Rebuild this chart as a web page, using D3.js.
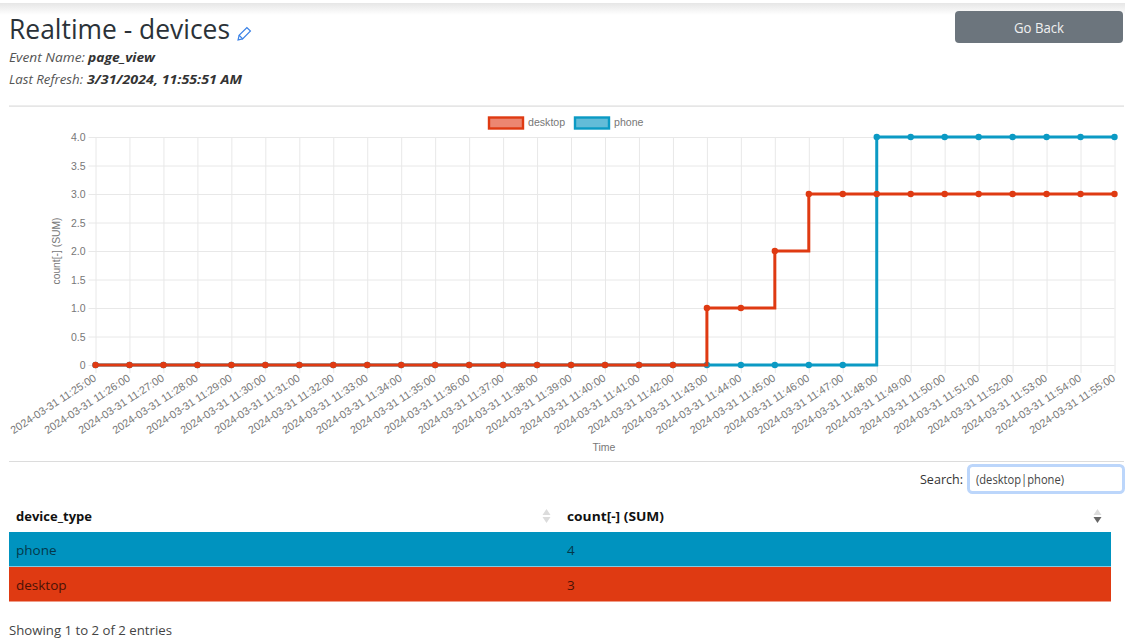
<!DOCTYPE html>
<html><head><meta charset="utf-8">
<script src="https://cdn.jsdelivr.net/npm/d3@7/dist/d3.min.js"></script>
<style>
html,body{margin:0;padding:0;background:#fff;overflow:hidden}
svg{display:block}
</style></head><body><svg id="c" width="1125" height="641"></svg>
<script>
const timeLabels = ["2024-03-31 11:25:00","2024-03-31 11:26:00","2024-03-31 11:27:00","2024-03-31 11:28:00","2024-03-31 11:29:00","2024-03-31 11:30:00","2024-03-31 11:31:00","2024-03-31 11:32:00","2024-03-31 11:33:00","2024-03-31 11:34:00","2024-03-31 11:35:00","2024-03-31 11:36:00","2024-03-31 11:37:00","2024-03-31 11:38:00","2024-03-31 11:39:00","2024-03-31 11:40:00","2024-03-31 11:41:00","2024-03-31 11:42:00","2024-03-31 11:43:00","2024-03-31 11:44:00","2024-03-31 11:45:00","2024-03-31 11:46:00","2024-03-31 11:47:00","2024-03-31 11:48:00","2024-03-31 11:49:00","2024-03-31 11:50:00","2024-03-31 11:51:00","2024-03-31 11:52:00","2024-03-31 11:53:00","2024-03-31 11:54:00","2024-03-31 11:55:00"];
const desktopValues = [0,0,0,0,0,0,0,0,0,0,0,0,0,0,0,0,0,0,1,1,2,3,3,3,3,3,3,3,3,3,3];
const phoneValues = [0,0,0,0,0,0,0,0,0,0,0,0,0,0,0,0,0,0,0,0,0,0,0,4,4,4,4,4,4,4,4];
const yTicks = [0,0.5,1,1.5,2,2.5,3,3.5,4];
const tableDevices = ["phone","desktop"];
const tableCounts = [4,3];

const RED="#df3a12", BLUE="#0b9ac4";
const UI="'Open Sans','Noto Sans',sans-serif", CH="'Liberation Sans',Arial,sans-serif";
const svg=d3.select("#c");
const defs=svg.append("defs");
const g0=defs.append("linearGradient").attr("id","top").attr("x1",0).attr("x2",0).attr("y1",0).attr("y2",1);
g0.append("stop").attr("offset",0).attr("stop-color","#e6e6e6");
g0.append("stop").attr("offset",1).attr("stop-color","#fff");
svg.append("rect").attr("x",0).attr("y",3).attr("width",1125).attr("height",12).attr("fill","url(#top)");

function text(x,y,s,o={}){const t=svg.append("text").attr("x",x).attr("y",y).text(s)
 .attr("font-family",o.f||UI).attr("font-size",o.s||13).attr("fill",o.c||"#333");
 if(o.w)t.attr("font-weight",o.w); if(o.i)t.attr("font-style","italic"); if(o.a)t.attr("text-anchor",o.a); return t;}

text(9,39,"Realtime - devices",{s:27,c:"#2b3238"}).attr("textLength",221).attr("lengthAdjust","spacingAndGlyphs");
// pencil icon
const pen=svg.append("g").attr("transform","translate(243,35) rotate(45)").attr("fill","none").attr("stroke","#3b82e6").attr("stroke-width",1.2);
pen.append("rect").attr("x",-2.5).attr("y",-8).attr("width",5).attr("height",11);
pen.append("path").attr("d","M-2.5,3 L0,7 L2.5,3");

text(9,62,"Event Name: ",{i:1,s:12.5,c:"#555"}).attr("textLength",76).attr("lengthAdjust","spacingAndGlyphs");
text(88,62,"page_view",{i:1,w:700,s:12.5,c:"#333"}).attr("textLength",67).attr("lengthAdjust","spacingAndGlyphs");
text(9,84,"Last Refresh: ",{i:1,s:12.5,c:"#555"}).attr("textLength",74).attr("lengthAdjust","spacingAndGlyphs");
text(87,84,"3/31/2024, 11:55:51 AM",{i:1,w:700,s:12.5,c:"#333"}).attr("textLength",155).attr("lengthAdjust","spacingAndGlyphs");

svg.append("rect").attr("x",955).attr("y",11).attr("width",168).attr("height",32).attr("rx",4).attr("fill","#6c757d");
text(1039,33,"Go Back",{s:14,c:"#f0f0f0",a:"middle"}).attr("textLength",50).attr("lengthAdjust","spacingAndGlyphs");

svg.append("rect").attr("x",9).attr("y",105.5).attr("width",1115).attr("height",1.2).attr("fill","#dcdcdc");
svg.append("rect").attr("x",9).attr("y",461).attr("width",1115).attr("height",1).attr("fill","#dcdcdc");

// chart
const x=d3.scalePoint().domain(timeLabels).range([95.5,1114.5]);
const y=d3.scaleLinear().domain([0,4]).range([365,137]);
const chart=svg.append("g").attr("font-family",CH);
const gridC="#e8e8e8";
const TXT="#777";
const xAxis=d3.axisBottom(x).tickSize(0).tickPadding(0);
const xg=chart.append("g").attr("transform","translate(0,365)").call(xAxis);
xg.select(".domain").remove();
xg.selectAll(".tick").each(function(d){
  const t=d3.select(this);
  t.append("line").attr("y1",-228).attr("y2",8).attr("stroke",gridC);
  t.select("text").attr("font-family",CH).attr("font-size",10.8).attr("fill",TXT)
   .attr("text-anchor","end").attr("dy",0).attr("y",0)
   .attr("transform","translate(1,15) rotate(-33)");
});
const yAxis=d3.axisLeft(y).tickValues(yTicks).tickSize(0).tickPadding(0).tickFormat(d=>d===0?"0":d3.format(".1f")(d));
const yg=chart.append("g").attr("transform","translate(95.5,0)").call(yAxis);
yg.select(".domain").remove();
yg.selectAll(".tick").each(function(){
  const t=d3.select(this);
  t.append("line").attr("x1",-7).attr("x2",1019).attr("stroke",gridC);
  t.select("text").attr("font-family",CH).attr("font-size",10.5).attr("fill",TXT).attr("x",-10).attr("dy","0.34em");
});
text(60,251,"count[-] (SUM)",{f:CH,s:10.3,c:TXT,a:"middle"}).attr("transform","rotate(-90 60 251)");
text(604,451,"Time",{f:CH,s:10.5,c:TXT,a:"middle"});

const line=d3.line().x((d,i)=>x(timeLabels[i])).y(d=>y(d)).curve(d3.curveStepAfter);
function series(vals,col){
  chart.append("path").datum(vals).attr("d",line).attr("fill","none").attr("stroke",col).attr("stroke-width",3);
  chart.append("g").selectAll("circle").data(vals).join("circle")
   .attr("cx",(d,i)=>x(timeLabels[i])).attr("cy",d=>y(d)).attr("r",3.2).attr("fill",col);
}
series(phoneValues,BLUE);
series(desktopValues,RED);

// legend
[["desktop",488,528,RED,"#ec8671"],["phone",574,614,BLUE,"#63bcd8"]].forEach(l=>{
  svg.append("rect").attr("x",l[1]+1).attr("y",117.5).attr("width",34).attr("height",11).attr("fill",l[4]).attr("stroke",l[3]).attr("stroke-width",2.4);
  text(l[2],126,l[0],{f:CH,s:10.6,c:TXT});
});

// search
text(920,484,"Search:",{s:13,c:"#333"}).attr("textLength",43).attr("lengthAdjust","spacingAndGlyphs");
svg.append("rect").attr("x",968.5).attr("y",465.5).attr("width",155).attr("height",27).attr("rx",4).attr("fill","#fff").attr("stroke","#bcd6fb").attr("stroke-width",3);
text(976,484,"(desktop|phone)",{s:12,c:"#444"}).attr("textLength",88).attr("lengthAdjust","spacingAndGlyphs");

// table
text(16,521,"device_type",{s:13,w:700,c:"#111"}).attr("textLength",76).attr("lengthAdjust","spacingAndGlyphs");
text(567,521,"count[-] (SUM)",{s:13,w:700,c:"#111"}).attr("textLength",97).attr("lengthAdjust","spacingAndGlyphs");
function arrows(cx,upC,dnC){
  svg.append("path").attr("d",`M${cx-4},515 L${cx},509 L${cx+4},515Z`).attr("fill",upC);
  svg.append("path").attr("d",`M${cx-4},517 L${cx},523 L${cx+4},517Z`).attr("fill",dnC);
}
arrows(546.5,"#dcdcdc","#dcdcdc");
arrows(1097.5,"#dcdcdc","#666");
const rowCol=["#0093bf",RED];
const rowY=d3.scaleBand().domain(tableDevices).range([532,601.5]).paddingInner(0.015);
tableDevices.forEach((d,i)=>{
  svg.append("rect").attr("x",9).attr("y",rowY(d)).attr("width",1102).attr("height",rowY.bandwidth()).attr("fill",rowCol[i]);
  text(16,rowY(d)+23,d,{s:13.5,c:i?"#4a1206":"#04384a"});
  text(567,rowY(d)+23,tableCounts[i],{s:13.5,c:i?"#4a1206":"#04384a"});
});
text(9,635,"Showing 1 to 2 of 2 entries",{s:13,c:"#444"}).attr("textLength",163).attr("lengthAdjust","spacingAndGlyphs");
</script></body></html>
